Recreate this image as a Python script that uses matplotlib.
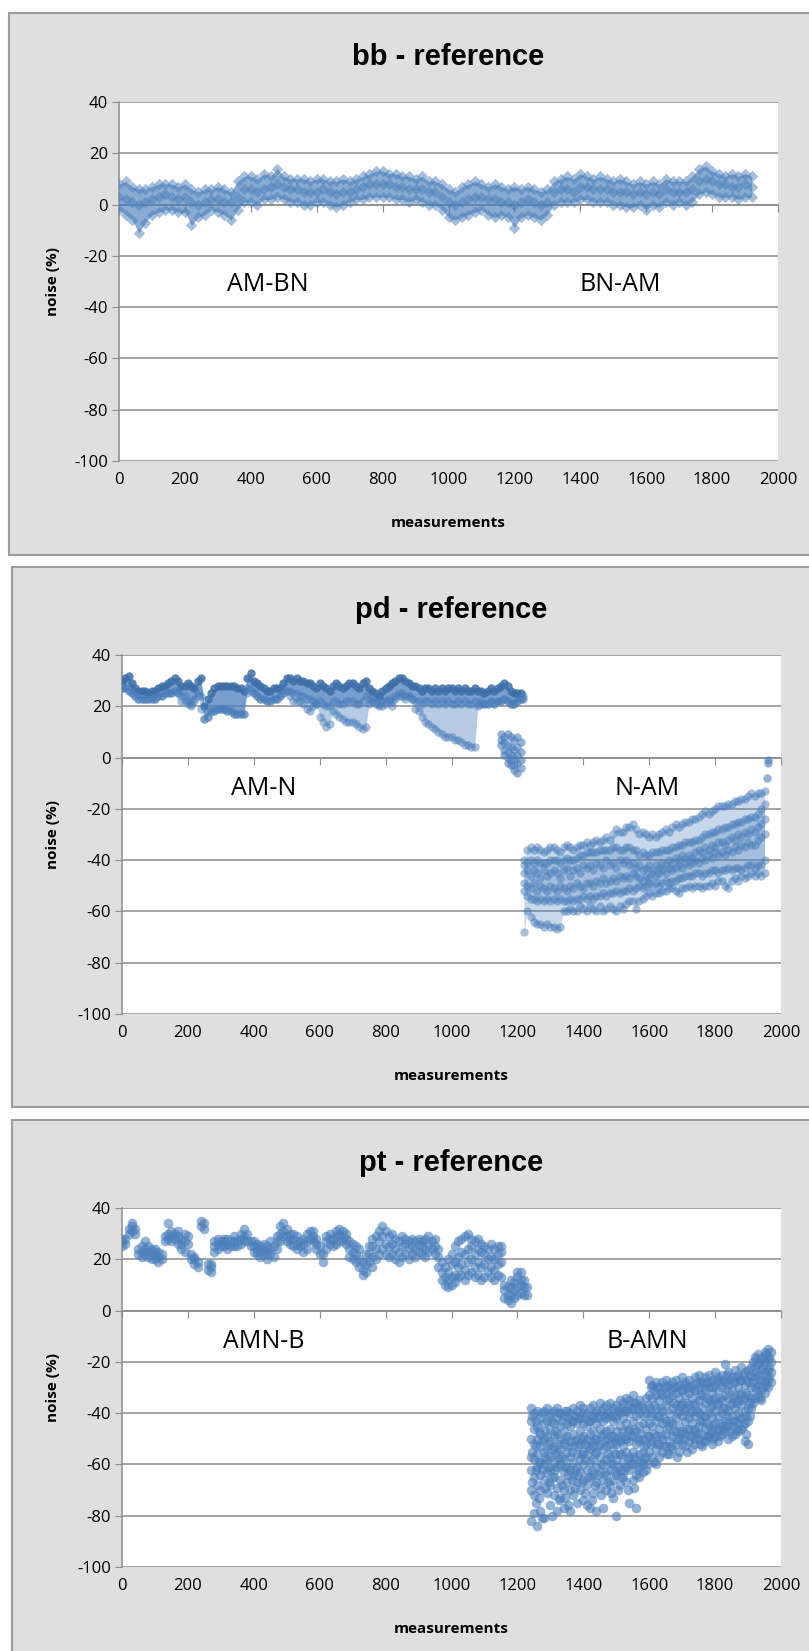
import numpy as np
import matplotlib
matplotlib.use('Agg')
import matplotlib.pyplot as plt
from matplotlib.patches import Rectangle

plt.rcParams['font.family'] = ['Open Sans', 'DejaVu Sans']
plt.rcParams['axes.unicode_minus'] = False

W, H = 809, 1651
BLUE = '#4a7ebb'
GRID = '#8c8c8c'

# ---------------- bb - reference (band read every 20 measurements)
bb_x = np.arange(0, 1921, 20)
bb_top = [8, 9, 7, 6, 6, 7, 8, 8, 8, 7,
          8, 6, 5, 6, 6, 7, 6, 5, 9, 11,
          11, 10, 12, 11, 14, 11, 10, 10, 10, 9,
          10, 10, 9, 9, 10, 9, 10, 11, 12, 13,
          13, 12, 12, 11, 11, 10, 11, 9, 9, 8,
          6, 5, 7, 8, 9, 8, 7, 8, 7, 6,
          7, 6, 7, 6, 5, 6, 9, 10, 11, 10,
          12, 11, 10, 11, 10, 9, 10, 9, 8, 9,
          8, 9, 8, 10, 9, 9, 9, 11, 14, 15,
          13, 12, 11, 12, 11, 12, 11]
bb_mid = [3, 2, 1, 0, 1, 2, 3, 4, 3, 2,
          3, 1, 0, 1, 2, 2, 1, 1, 3, 6,
          6, 5, 6, 7, 8, 7, 6, 6, 5, 5,
          5, 6, 5, 4, 5, 5, 6, 7, 8, 8,
          8, 8, 7, 7, 6, 6, 6, 5, 5, 3,
          1, 0, 1, 2, 3, 3, 2, 2, 1, 1,
          0, 1, 2, 1, 0, 1, 5, 6, 6, 5,
          7, 7, 6, 6, 6, 5, 5, 5, 4, 5,
          4, 5, 4, 6, 5, 5, 5, 6, 9, 10,
          9, 8, 8, 7, 7, 8, 7]
bb_low = [-2, -4, -6, -11, -7, -4, -3, -2, -2, -3,
          -3, -8, -5, -4, -2, -3, -4, -6, -2, 1,
          1, 0, 2, 2, 3, 2, 1, 1, 0, 0,
          1, 1, 0, -1, 0, 1, 2, 2, 3, 3,
          3, 3, 2, 2, 1, 2, 1, 0, 0, -2,
          -5, -6, -5, -4, -3, -2, -4, -5, -4, -5,
          -9, -5, -4, -5, -6, -4, 0, 1, 1, 1,
          2, 2, 1, 1, 1, 0, 0, -1, -1, 0,
          -2, 0, -1, 1, 0, 1, 0, 1, 4, 5,
          4, 3, 3, 3, 2, 3, 3]

# ---------------- pd - reference
pd_left_x = np.arange(0, 1211, 10)
pd_left_top = [30, 31, 32, 29, 27, 26, 26, 26, 25, 26,
               26, 27, 28, 28, 29, 30, 31, 30, 28, 28,
               29, 28, 27, 30, 31, 20, 23, 25, 27, 28,
               28, 28, 28, 28, 28, 27, 27, 26, 31, 33,
               30, 29, 28, 27, 26, 26, 27, 27, 27, 29,
               31, 31, 30, 31, 30, 30, 29, 29, 28, 27,
               29, 28, 27, 26, 28, 29, 28, 27, 28, 29,
               29, 28, 27, 29, 30, 27, 26, 25, 24, 26,
               27, 28, 29, 30, 31, 31, 30, 29, 28, 28,
               27, 26, 27, 27, 26, 27, 26, 27, 26, 27,
               27, 26, 27, 26, 27, 26, 26, 27, 26, 26,
               25, 26, 27, 26, 27, 28, 29, 28, 26, 25,
               25, 25]
pd_left_band = [27, 27, 26, 25, 24, 23, 23, 23, 23, 23,
                23, 24, 24, 25, 25, 25, 26, 25, 24, 24,
                22, 21, 23, 25, 24, 15, 16, 18, 18, 19,
                19, 19, 18, 18, 17, 17, 17, 17, 27, 27,
                25, 24, 23, 23, 22, 22, 23, 23, 24, 25,
                26, 26, 25, 25, 24, 24, 23, 23, 22, 21,
                22, 21, 20, 20, 22, 22, 21, 21, 22, 22,
                22, 21, 21, 22, 24, 23, 22, 22, 21, 22,
                22, 23, 22, 24, 25, 25, 24, 24, 23, 22,
                22, 21, 22, 22, 21, 22, 21, 22, 21, 22,
                21, 21, 22, 21, 22, 21, 21, 22, 21, 22,
                21, 21, 22, 21, 22, 22, 23, 22, 21, 21,
                22, 23]
pd_left_low = [27, 27, 26, 25, 24, 23, 23, 23, 23, 23,
               23, 24, 24, 25, 25, 25, 26, 25, 22, 22,
               21, 20, 22, 24, 19, 15, 16, 18, 18, 19,
               19, 19, 18, 18, 17, 17, 17, 17, 25, 26,
               25, 24, 23, 23, 22, 22, 23, 23, 24, 25,
               26, 24, 22, 22, 22, 21, 19, 18, 20, 21,
               16, 14, 12, 13, 18, 17, 16, 15, 14, 14,
               14, 13, 12, 11, 12, 21, 22, 21, 20, 20,
               21, 22, 20, 23, 24, 24, 23, 24, 23, 19,
               18, 16, 14, 13, 12, 11, 10, 9, 8, 8,
               8, 7, 7, 6, 5, 5, 4, 4, 20, 21,
               21, 21, 22, 21, 22, 22, 23, 22, 21, 21,
               22, 23]

pd_drop_x = [1150, 1160, 1170, 1180, 1190, 1200, 1210, 1216]
pd_drop_cols = [[9, 7, 5], [8, 6, 3, 1], [9, 5, 2, 0, -2], [8, 4, 1, -1, -3],
                [7, 3, 0, -3, -5], [8, 4, 1, -2, -6], [6, 2, -1, -4], [24, 23]]

pd_right_x = np.arange(1220, 1951, 10)
pd_right_top = [-40, -36, -35, -36, -35, -36, -37, -36, -35, -35,
                -36, -37, -35, -34, -35, -36, -35, -34, -34, -33,
                -34, -33, -32, -33, -32, -31, -32, -30, -28, -29,
                -29, -27, -27, -26, -28, -30, -29, -30, -31, -30,
                -31, -30, -29, -28, -29, -27, -26, -27, -26, -25,
                -25, -24, -24, -23, -22, -21, -22, -21, -20, -19,
                -19, -19, -18, -18, -17, -17, -16, -16, -15, -14,
                -15, -14, -14, -13]
pd_right_upper = [-42, -41, -40, -41, -40, -41, -41, -41, -40, -40,
                  -40, -41, -40, -39, -40, -40, -39, -38, -38, -37,
                  -37, -37, -37, -36, -36, -36, -36, -35, -35, -36,
                  -36, -35, -35, -36, -36, -38, -37, -38, -38, -37,
                  -37, -37, -36, -36, -36, -35, -35, -34, -34, -33,
                  -33, -33, -32, -32, -31, -30, -30, -29, -29, -28,
                  -28, -27, -27, -26, -26, -25, -25, -24, -24, -23,
                  -23, -22, -20, -18]
pd_right_in1 = [-45, -44, -46, -44, -45, -47, -44, -46, -45, -44,
                -45, -47, -44, -43, -46, -44, -43, -45, -42, -43,
                -42, -44, -41, -42, -43, -40, -42, -41, -43, -40,
                -41, -40, -42, -41, -43, -42, -44, -43, -42, -44,
                -42, -43, -41, -42, -40, -41, -39, -40, -38, -39,
                -38, -39, -37, -36, -37, -35, -36, -34, -35, -33,
                -33, -34, -32, -31, -32, -30, -31, -29, -30, -28,
                -29, -27, -26, -24]
pd_right_in2 = [-49, -50, -51, -49, -52, -50, -51, -52, -50, -51,
                -52, -50, -51, -52, -50, -51, -49, -50, -51, -49,
                -49, -50, -48, -49, -47, -49, -48, -47, -48, -46,
                -47, -46, -47, -45, -46, -47, -48, -46, -47, -45,
                -46, -45, -44, -45, -43, -44, -43, -42, -43, -41,
                -42, -41, -40, -41, -39, -40, -38, -39, -37, -38,
                -37, -38, -36, -37, -35, -36, -34, -35, -33, -34,
                -34, -32, -31, -30]
pd_right_lower = [-52, -54, -55, -55, -56, -55, -56, -55, -56, -55,
                  -56, -55, -56, -56, -55, -56, -55, -55, -54, -55,
                  -54, -55, -54, -54, -53, -54, -53, -53, -52, -53,
                  -52, -52, -51, -52, -51, -50, -51, -50, -49, -50,
                  -49, -50, -49, -48, -49, -48, -48, -47, -47, -46,
                  -46, -46, -45, -45, -46, -45, -45, -44, -44, -45,
                  -44, -44, -43, -44, -43, -43, -44, -43, -42, -42,
                  -43, -42, -42, -40]
pd_right_low = [-68, -60, -62, -64, -65, -65, -66, -65, -66, -66,
                -67, -66, -60, -60, -59, -60, -60, -58, -59, -60,
                -58, -59, -60, -58, -60, -59, -58, -59, -60, -58,
                -59, -57, -56, -56, -59, -56, -55, -54, -53, -54,
                -53, -53, -52, -52, -51, -51, -52, -53, -51, -51,
                -50, -51, -50, -50, -51, -50, -50, -49, -50, -48,
                -48, -50, -51, -48, -47, -48, -46, -47, -46, -45,
                -46, -45, -46, -45]
pd_tail_x = [1956, 1960, 1962]
pd_tail_y = [-8, -1, -2]

# ---------------- pt - reference (columns every 10 measurements)
pt_left_x = np.arange(0, 1231, 10)
pt_left_cols = [
    [25, 27, 28], [26, 28], [30, 32], [31, 33, 34], [30, 32], [22, 24], [21, 23, 25], [22, 24, 27],
    [21, 23, 25], [20, 23, 24], [20, 22, 24], [19, 21, 23], [20, 22], [27, 29], [28, 30, 34],
    [27, 29, 31], [28, 30], [26, 29, 31], [24, 26, 28], [23, 27, 30], [26, 29], [20, 22],
    [18, 20, 21], [17, 19], [33, 35], [32, 34], [16, 18], [15, 17, 18], [23, 25, 27],
    [24, 26, 28], [25, 27], [25, 27, 28], [24, 26, 28], [25, 27], [25, 27, 29], [25, 27],
    [26, 28, 30], [27, 29, 32], [27, 30], [25, 27], [23, 25, 27], [22, 24, 26], [21, 23, 25],
    [22, 24, 26], [20, 23, 25], [22, 24, 27], [21, 25], [24, 27, 29], [27, 30, 33],
    [29, 31, 34], [27, 29, 32], [26, 28, 30], [25, 28, 30], [24, 26, 29], [25, 27],
    [23, 26, 28], [24, 27, 30], [28, 31], [27, 29, 31], [24, 26, 28], [22, 25], [19, 22],
    [24, 27, 29], [26, 28, 30], [25, 28], [26, 29, 31], [27, 30, 32], [27, 29, 31],
    [26, 28, 30], [21, 24, 27], [20, 23, 26], [19, 22, 25], [17, 20, 24], [14, 16, 19],
    [15, 18, 22], [19, 22, 25], [17, 21, 25, 28], [20, 24, 29], [22, 27, 31], [24, 29, 33],
    [22, 26, 31], [21, 25, 29], [22, 26, 30], [20, 24, 28], [19, 23, 27], [21, 25, 29],
    [22, 26, 28], [20, 24, 27], [22, 25, 28], [21, 24, 27], [23, 26, 28], [22, 25, 27],
    [21, 24, 28], [23, 26, 29], [24, 27], [22, 25, 28], [17, 21, 24], [12, 15, 19],
    [10, 13, 17], [9, 12, 15, 20], [10, 13, 18, 22], [11, 14, 19, 25], [13, 17, 21, 27],
    [14, 18, 23, 28], [12, 16, 22, 29], [14, 19, 24, 30], [15, 20, 25, 28], [13, 17, 22, 27],
    [14, 19, 24, 28], [12, 17, 23, 26], [13, 18, 22, 25], [15, 20, 24], [13, 17, 21, 26],
    [12, 16, 20, 24], [14, 18, 22, 25], [13, 19, 23, 25], [5, 8, 10], [4, 6, 9],
    [3, 6, 9, 12], [5, 8, 11], [6, 9, 13, 15], [7, 10, 12, 15], [6, 9, 12], [6, 9]]

pt_right_x = np.arange(1240, 1971, 10)
pt_right_cols = [
    [-38, -43, -50, -57, -62, -70, -82], [-40, -46, -52, -58, -65, -72, -79],
    [-39, -45, -50, -56, -61, -68, -84], [-42, -48, -53, -59, -64, -70, -78],
    [-39, -44, -50, -55, -60, -66, -81], [-38, -43, -49, -54, -58, -63, -71],
    [-40, -46, -51, -57, -62, -68, -76], [-39, -44, -49, -53, -59, -65, -72],
    [-38, -42, -48, -55, -61, -69, -78], [-40, -45, -50, -54, -60, -66, -73],
    [-41, -47, -52, -58, -63, -70, -77], [-39, -44, -49, -55, -61, -67],
    [-40, -45, -51, -57, -62, -70, -78], [-38, -43, -48, -53, -59, -64, -72],
    [-39, -44, -50, -56, -61, -67, -75], [-37, -42, -47, -52, -58, -63, -70],
    [-38, -44, -49, -55, -60, -66, -74], [-40, -45, -50, -56, -62, -68, -76],
    [-38, -43, -48, -54, -59, -65, -77], [-37, -42, -47, -53, -58, -64, -71],
    [-39, -44, -50, -55, -61, -67, -78], [-36, -41, -46, -52, -57, -63, -69],
    [-38, -43, -48, -54, -60, -66, -77], [-37, -42, -47, -53, -58, -64, -70],
    [-36, -41, -46, -52, -57, -62, -68], [-38, -43, -49, -54, -60, -66, -73],
    [-37, -42, -47, -52, -58, -64, -80], [-35, -40, -45, -51, -56, -62, -68],
    [-36, -42, -47, -53, -59, -65], [-34, -39, -44, -50, -55, -61, -67],
    [-35, -40, -46, -51, -57, -62, -75], [-33, -38, -43, -49, -55, -60, -66],
    [-36, -41, -47, -52, -58, -64, -77], [-35, -40, -45, -51, -56, -61, -65],
    [-38, -44, -50, -55, -60, -63], [-34, -40, -46, -52, -57, -62],
    [-27, -33, -38, -44, -49, -55], [-29, -34, -40, -45, -51, -57],
    [-28, -33, -38, -43, -49, -54, -60], [-30, -35, -41, -46, -52, -57],
    [-28, -33, -39, -44, -50, -55], [-27, -32, -37, -43, -48, -53],
    [-29, -34, -40, -45, -51, -56], [-28, -33, -38, -44, -49, -54],
    [-27, -32, -37, -42, -47, -52], [-29, -34, -39, -45, -50, -55],
    [-26, -31, -36, -41, -47, -52], [-28, -33, -38, -43, -48, -53],
    [-27, -32, -37, -42, -46, -51], [-29, -34, -39, -44, -49, -54],
    [-26, -31, -36, -41, -46, -50], [-25, -30, -35, -40, -45, -50],
    [-28, -33, -38, -43, -48, -53], [-26, -31, -36, -41, -46, -51],
    [-25, -30, -35, -40, -45, -49], [-27, -32, -37, -42, -47, -52],
    [-24, -29, -34, -39, -44, -49], [-26, -31, -36, -41, -46, -51],
    [-25, -30, -35, -40, -45, -48], [-21, -28, -33, -38, -43, -47],
    [-24, -29, -34, -39, -44, -50], [-26, -31, -36, -41, -45, -49],
    [-23, -28, -33, -38, -43, -48], [-25, -30, -35, -40, -44, -47],
    [-22, -27, -32, -37, -42, -46], [-24, -29, -34, -39, -44, -51],
    [-23, -28, -33, -38, -43, -52], [-22, -26, -30, -34, -38],
    [-18, -22, -26, -30, -34], [-17, -21, -25, -29, -33],
    [-19, -23, -27, -31, -35], [-16, -20, -24, -28, -32],
    [-15, -19, -23, -27, -30], [-16, -20, -24, -28]]

pt_right_x2 = np.arange(1245, 1966, 10)
pt_right_cols2 = [
    [-41, -55, -67], [-43, -53, -62, -75], [-47, -59, -73], [-40, -51, -62, -81],
    [-47, -57, -69], [-41, -52, -61, -67], [-43, -54, -65, -80], [-47, -56, -62],
    [-40, -52, -58, -74], [-43, -57, -68], [-39, -50, -61, -73], [-42, -53, -64, -76],
    [-43, -55, -66], [-41, -51, -62, -69], [-42, -53, -64], [-40, -50, -56, -67],
    [-42, -52, -58, -71], [-43, -53, -65], [-41, -51, -62, -74], [-40, -50, -56, -68],
    [-42, -53, -64], [-39, -49, -60, -72], [-41, -51, -63], [-40, -50, -56, -67],
    [-39, -49, -60, -71], [-41, -51, -56, -63], [-39, -50, -61, -70], [-38, -49, -56, -65],
    [-39, -50, -62], [-37, -47, -58, -70], [-38, -49, -60], [-36, -46, -57, -69],
    [-38, -50, -62], [-37, -48, -59], [-41, -53, -58], [-37, -49, -60],
    [-30, -41, -52], [-31, -37, -48, -59], [-30, -41, -52], [-32, -38, -49],
    [-30, -42, -53], [-30, -35, -46, -56], [-31, -43, -53], [-30, -36, -47],
    [-30, -40, -50, -57], [-31, -37, -48], [-29, -39, -50], [-30, -36, -46, -55],
    [-30, -40, -49], [-31, -37, -47, -52], [-28, -39, -48], [-28, -33, -43, -52],
    [-30, -41, -51], [-28, -34, -44, -49], [-28, -38, -48], [-30, -35, -45, -50],
    [-27, -37, -47], [-28, -34, -44, -49], [-27, -38, -46], [-25, -31, -41, -45],
    [-27, -37, -47], [-28, -34, -43], [-26, -36, -46], [-27, -33, -42],
    [-25, -35, -45], [-27, -32, -41, -48], [-25, -36, -41], [-20, -28, -36],
    [-19, -24, -31], [-20, -27, -34], [-18, -22, -30], [-17, -25, -29],
    [-18, -22, -26]]

titles = ['bb - reference', 'pd - reference', 'pt - reference']
notes = [[(450, -31, 'AM-BN'), (1520, -31, 'BN-AM')],
         [(430, -12, 'AM-N'), (1595, -12, 'N-AM')],
         [(430, -12, 'AMN-B'), (1595, -12, 'B-AMN')]]

# panel frames and plot areas, in pixels (left, top, right, bottom)
frames = [(9, 13, 830, 555), (12, 567, 830, 1107), (12, 1120, 830, 1665)]
areas = [(119, 102, 778, 461), (122, 655, 781, 1014), (122, 1208, 781, 1567)]


def flat(xs, cols):
    fx, fy = [], []
    for x, col in zip(xs, cols):
        for y in col:
            fx.append(x)
            fy.append(y)
    return fx, fy


fig = plt.figure(figsize=(W / 100, H / 100), dpi=100)
fig.patch.set_facecolor('white')

axes = []
for (l, t, r, b), (al, at, ar, ab) in zip(frames, areas):
    fig.patches.append(Rectangle((l / W, 1 - b / H), (r - l) / W, (b - t) / H,
                                 transform=fig.transFigure, fc='#dfdfdf', ec='#9c9c9c',
                                 lw=1.5, zorder=-10))
    axes.append(fig.add_axes([al / W, 1 - ab / H, (ar - al) / W, (ab - at) / H]))

for ax, title, note, (al, at, ar, ab) in zip(axes, titles, notes, areas):
    ax.set_xlim(0, 2000)
    ax.set_ylim(-100, 40)
    ax.set_facecolor('white')
    ax.set_yticks(range(-100, 41, 20))
    ax.set_xticks(range(0, 2001, 200))
    ax.grid(axis='y', color=GRID, lw=1.1)
    ax.grid(axis='x', visible=False)
    ax.set_axisbelow(True)
    for s in ['top', 'right']:
        ax.spines[s].set_visible(False)
    ax.spines['left'].set_color(GRID)
    ax.spines['left'].set_linewidth(1.1)
    ax.spines['bottom'].set_position(('data', 0))
    ax.spines['bottom'].set_color(GRID)
    ax.spines['bottom'].set_linewidth(1.1)
    ax.tick_params(axis='x', direction='out', length=5, color=GRID, labelbottom=False)
    ax.tick_params(axis='y', direction='out', length=5, color=GRID, labelsize=12, pad=3)
    sec = ax.secondary_xaxis('bottom')
    sec.set_xticks(range(0, 2001, 200))
    sec.tick_params(length=0, labelsize=12, pad=8)
    sec.spines['bottom'].set_visible(False)
    sec.set_xlabel('measurements', fontweight='bold', fontsize=11, labelpad=20)
    ax.set_ylabel('noise (%)', fontweight='bold', fontsize=11)
    ax.yaxis.set_label_coords(-(al - 60) / (ar - al), 0.5)
    ax.text(0.5, 1 + 45 / (ab - at), title, transform=ax.transAxes, ha='center', va='center',
            fontsize=21, fontweight='bold', family=['Liberation Sans', 'DejaVu Sans'])
    for x, y, s in note:
        ax.text(x, y, s, ha='center', va='center', fontsize=18)

# bb
ax = axes[0]
ax.fill_between(bb_x, bb_low, bb_top, color=BLUE, alpha=0.65, lw=0, zorder=3)
for row in (bb_top, bb_mid, bb_low):
    ax.scatter(bb_x, row, s=34, marker='D', color=BLUE, alpha=0.5, lw=0, zorder=3)

# pd
ax = axes[1]
ax.fill_between(pd_left_x, pd_left_band, pd_left_top, color=BLUE, alpha=0.75, lw=0, zorder=3)
ax.fill_between(pd_left_x, pd_left_low, pd_left_band, color=BLUE, alpha=0.4, lw=0, zorder=3)
ax.scatter(pd_left_x, pd_left_top, s=36, color='#3d6ea8', alpha=0.85, lw=0, zorder=3)
for row in (pd_left_band, pd_left_low):
    ax.scatter(pd_left_x, row, s=36, color=BLUE, alpha=0.5, lw=0, zorder=3)
dx, dy = flat(pd_drop_x, pd_drop_cols)
ax.scatter(dx, dy, s=36, color=BLUE, alpha=0.6, lw=0, zorder=3)
ax.fill_between(pd_right_x, pd_right_upper, pd_right_top, color=BLUE, alpha=0.3, lw=0, zorder=3)
ax.fill_between(pd_right_x, pd_right_lower, pd_right_upper, color=BLUE, alpha=0.5, lw=0, zorder=3)
ax.fill_between(pd_right_x, pd_right_low, pd_right_lower, color=BLUE, alpha=0.3, lw=0, zorder=3)
for row in (pd_right_top, pd_right_upper, pd_right_in1, pd_right_in2,
            pd_right_lower, pd_right_low):
    ax.scatter(pd_right_x, row, s=36, color=BLUE, alpha=0.5, lw=0, zorder=3)
ax.scatter(pd_tail_x, pd_tail_y, s=36, color=BLUE, alpha=0.6, lw=0, zorder=3)

# pt
ax = axes[2]
tx, ty = flat(pt_left_x, pt_left_cols)
ax.scatter(tx, ty, s=48, color=BLUE, alpha=0.6, lw=0, zorder=3)
tx, ty = flat(pt_right_x, pt_right_cols)
ax.scatter(tx, ty, s=48, color=BLUE, alpha=0.6, lw=0, zorder=3)
tx, ty = flat(pt_right_x2, pt_right_cols2)
ax.scatter(tx, ty, s=48, color=BLUE, alpha=0.6, lw=0, zorder=3)

fig.savefig('out.png', dpi=100)
